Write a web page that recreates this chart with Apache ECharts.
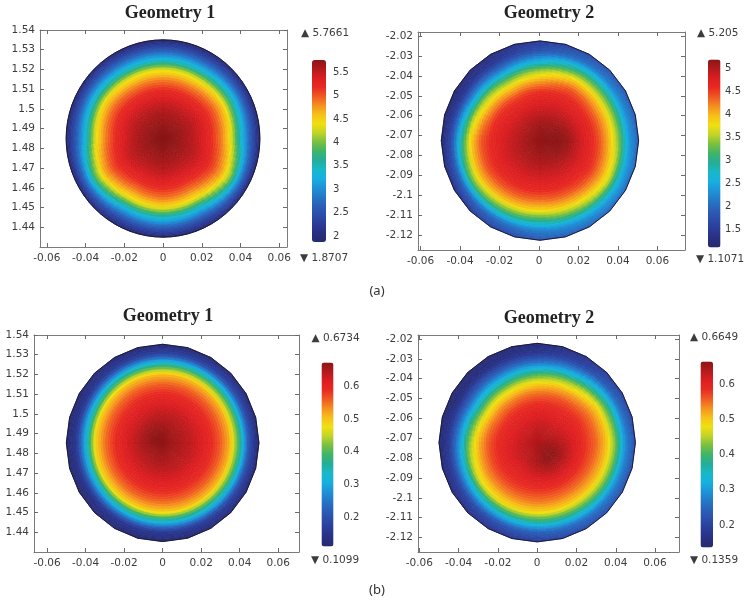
<!DOCTYPE html>
<html>
<head>
<meta charset="utf-8">
<script src="https://cdn.jsdelivr.net/npm/echarts@6/dist/echarts.min.js"></script>
<style>
  html, body { margin: 0; padding: 0; background: #ffffff; }
  #chart { width: 744px; height: 604px; }
</style>
</head>
<body>
<div id="chart"></div>
<script>
// Cross-section fields sampled along rays from each section centre.
// Rows follow rayAngles (degrees, counter-clockwise from +x); columns follow sampleRadii.
const sampleRadii = [0, 0.005, 0.01, 0.015, 0.02, 0.025, 0.03, 0.035, 0.04, 0.045, 0.05];
const rayAngles = [0, 30, 60, 90, 120, 150, 180, 210, 240, 270, 300, 330];

// (a) Geometry 1
const geom1aRays = [
  [5.766, 5.741, 5.667, 5.564, 5.408, 5.199, 4.874, 4.40, 3.44, 2.65, 1.95],
  [5.766, 5.745, 5.673, 5.578, 5.435, 5.240, 4.960, 4.55, 3.65, 2.74, 1.95],
  [5.766, 5.740, 5.664, 5.560, 5.400, 5.180, 4.840, 4.35, 3.36, 2.59, 1.95],
  [5.766, 5.740, 5.664, 5.560, 5.400, 5.180, 4.840, 4.35, 3.36, 2.59, 1.93],
  [5.766, 5.740, 5.664, 5.560, 5.400, 5.180, 4.840, 4.35, 3.36, 2.59, 1.93],
  [5.766, 5.743, 5.670, 5.570, 5.420, 5.220, 4.930, 4.50, 3.56, 2.68, 1.95],
  [5.766, 5.740, 5.664, 5.560, 5.400, 5.180, 4.840, 4.35, 3.36, 2.59, 1.95],
  [5.766, 5.745, 5.680, 5.590, 5.470, 5.280, 5.040, 4.68, 3.95, 2.85, 1.95],
  [5.766, 5.740, 5.664, 5.560, 5.400, 5.180, 4.840, 4.35, 3.36, 2.59, 1.95],
  [5.766, 5.745, 5.672, 5.575, 5.425, 5.215, 4.915, 4.45, 3.50, 2.68, 1.98],
  [5.766, 5.742, 5.664, 5.560, 5.400, 5.180, 4.840, 4.35, 3.36, 2.59, 1.95],
  [5.766, 5.746, 5.680, 5.590, 5.470, 5.300, 5.060, 4.72, 4.09, 2.90, 1.97]
];

// (a) Geometry 2
const geom2aRays = [
  [5.15, 5.19, 5.20, 5.10, 4.89, 4.70, 4.44, 4.03, 3.39, 2.42, 1.95],
  [5.15, 5.18, 5.16, 5.03, 4.84, 4.67, 4.37, 3.95, 3.21, 2.28, 1.85],
  [5.15, 5.16, 5.10, 4.95, 4.81, 4.64, 4.41, 3.91, 3.08, 2.13, 1.70],
  [5.15, 5.14, 5.05, 4.90, 4.75, 4.56, 4.11, 3.51, 2.59, 1.81, 1.50],
  [5.15, 5.12, 5.02, 4.88, 4.71, 4.45, 3.96, 3.22, 2.26, 1.52, 1.25],
  [5.15, 5.11, 5.00, 4.87, 4.73, 4.54, 4.10, 3.47, 2.39, 1.48, 1.12],
  [5.15, 5.10, 5.00, 4.90, 4.78, 4.62, 4.40, 3.91, 2.91, 1.73, 1.20],
  [5.15, 5.11, 5.03, 4.93, 4.81, 4.66, 4.43, 4.03, 3.27, 1.97, 1.35],
  [5.15, 5.12, 5.04, 4.93, 4.80, 4.64, 4.37, 3.95, 3.13, 2.09, 1.60],
  [5.15, 5.13, 5.06, 4.94, 4.80, 4.62, 4.31, 3.86, 3.06, 2.22, 1.85],
  [5.15, 5.15, 5.09, 4.97, 4.83, 4.66, 4.40, 3.99, 3.32, 2.39, 1.95],
  [5.15, 5.18, 5.16, 5.04, 4.88, 4.72, 4.52, 4.15, 3.66, 2.57, 2.00]
];

// (b) Geometry 1
const geom1bRays = [
  [0.668, 0.659, 0.648, 0.636, 0.618, 0.594, 0.562, 0.513, 0.385, 0.203, 0.120],
  [0.668, 0.659, 0.648, 0.636, 0.617, 0.593, 0.561, 0.511, 0.378, 0.198, 0.118],
  [0.668, 0.662, 0.650, 0.636, 0.617, 0.592, 0.559, 0.507, 0.368, 0.190, 0.117],
  [0.668, 0.666, 0.652, 0.636, 0.616, 0.592, 0.558, 0.505, 0.360, 0.185, 0.116],
  [0.668, 0.670, 0.655, 0.635, 0.615, 0.590, 0.556, 0.501, 0.346, 0.175, 0.115],
  [0.668, 0.673, 0.656, 0.634, 0.614, 0.588, 0.552, 0.493, 0.325, 0.160, 0.114],
  [0.668, 0.668, 0.654, 0.634, 0.613, 0.587, 0.549, 0.490, 0.318, 0.157, 0.113],
  [0.668, 0.663, 0.650, 0.634, 0.613, 0.587, 0.549, 0.490, 0.318, 0.157, 0.113],
  [0.668, 0.662, 0.650, 0.634, 0.614, 0.588, 0.552, 0.493, 0.325, 0.160, 0.114],
  [0.668, 0.662, 0.650, 0.634, 0.614, 0.589, 0.553, 0.496, 0.332, 0.165, 0.115],
  [0.668, 0.659, 0.647, 0.635, 0.615, 0.591, 0.556, 0.503, 0.350, 0.178, 0.117],
  [0.668, 0.659, 0.647, 0.636, 0.617, 0.593, 0.560, 0.508, 0.371, 0.193, 0.118]
];

// (b) Geometry 2
const geom2bRays = [
  [0.640, 0.646, 0.643, 0.628, 0.606, 0.580, 0.554, 0.510, 0.426, 0.287, 0.220],
  [0.640, 0.637, 0.628, 0.614, 0.597, 0.576, 0.544, 0.496, 0.387, 0.258, 0.200],
  [0.640, 0.635, 0.625, 0.609, 0.589, 0.563, 0.515, 0.434, 0.310, 0.209, 0.170],
  [0.640, 0.634, 0.623, 0.606, 0.583, 0.549, 0.492, 0.393, 0.273, 0.181, 0.150],
  [0.640, 0.630, 0.618, 0.600, 0.578, 0.537, 0.470, 0.363, 0.254, 0.167, 0.140],
  [0.640, 0.630, 0.618, 0.600, 0.578, 0.537, 0.470, 0.362, 0.252, 0.164, 0.137],
  [0.640, 0.632, 0.620, 0.605, 0.588, 0.561, 0.512, 0.426, 0.293, 0.186, 0.145],
  [0.640, 0.635, 0.626, 0.612, 0.593, 0.569, 0.530, 0.467, 0.328, 0.206, 0.155],
  [0.640, 0.638, 0.630, 0.613, 0.595, 0.573, 0.537, 0.485, 0.355, 0.226, 0.170],
  [0.640, 0.645, 0.644, 0.627, 0.602, 0.575, 0.543, 0.493, 0.377, 0.248, 0.190],
  [0.640, 0.654, 0.662, 0.640, 0.612, 0.580, 0.545, 0.498, 0.394, 0.268, 0.210],
  [0.640, 0.654, 0.662, 0.641, 0.613, 0.582, 0.550, 0.506, 0.415, 0.282, 0.220]
];

// colour range end values shown beside each colour bar
const rangeA1 = [1.8707, 5.7661];
const rangeA2 = [1.1071, 5.205];
const rangeB1 = [0.1099, 0.6734];
const rangeB2 = [0.1359, 0.6649];

// tick labels
const xTickValues = [-0.06, -0.04, -0.02, 0, 0.02, 0.04, 0.06];
const yTicksGeom1 = [1.44, 1.45, 1.46, 1.47, 1.48, 1.49, 1.5, 1.51, 1.52, 1.53, 1.54];
const yTicksGeom2 = [-2.12, -2.11, -2.1, -2.09, -2.08, -2.07, -2.06, -2.05, -2.04, -2.03, -2.02];
const barTicksA1 = [2, 2.5, 3, 3.5, 4, 4.5, 5, 5.5];
const barTicksA2 = [1.5, 2, 2.5, 3, 3.5, 4, 4.5, 5];
const barTicksB = [0.2, 0.3, 0.4, 0.5, 0.6];

// rainbow colour table, low to high
const rainbow = ['#262a6e', '#283082', '#2b3c98', '#2b4daa', '#2a5fb8', '#2478c8', '#1e93d8',
  '#16b0e0', '#18b8c8', '#24ae98', '#40b468', '#7ac040', '#c0d428', '#f0e010', '#f6c018',
  '#f59020', '#f05a22', '#e82a22', '#dc1e22', '#b41a1c', '#8a1616'];

const panels = [
  { title: 'Geometry 1', rays: geom1aRays, range: rangeA1, barTicks: barTicksA1, yTicks: yTicksGeom1,
    cx: 0, cy: 1.485, rimSides: 72,
    grid: { left: 40, top: 30, width: 247, height: 217 }, xRange: [-0.0635, 0.064], yRange: [1.43, 1.54],
    bar: { left: 312, top: 60, width: 14, height: 182, margin: 7 },
    titleAt: [170, 13], maxAt: [301, 33], minAt: [300, 258] },
  { title: 'Geometry 2', rays: geom2aRays, range: rangeA2, barTicks: barTicksA2, yTicks: yTicksGeom2,
    cx: 0.0005, cy: -2.0725, rimSides: 24,
    grid: { left: 418, top: 32, width: 267, height: 218 }, xRange: [-0.0613, 0.074], yRange: [-2.1274, -2.018],
    bar: { left: 708, top: 59.5, width: 12.5, height: 188, margin: 6 },
    titleAt: [549, 13], maxAt: [697, 33], minAt: [696, 259] },
  { title: 'Geometry 1', rays: geom1bRays, range: rangeB1, barTicks: barTicksB, yTicks: yTicksGeom1,
    cx: 0, cy: 1.4853, rimSides: 24,
    grid: { left: 34, top: 335, width: 265, height: 217 }, xRange: [-0.0668, 0.0708], yRange: [1.43, 1.54],
    bar: { left: 321.5, top: 362.5, width: 12, height: 184, margin: 10 },
    titleAt: [168, 316.5], maxAt: [311.5, 338.5], minAt: [311, 560.5] },
  { title: 'Geometry 2', rays: geom2bRays, range: rangeB2, barTicks: barTicksB, yTicks: yTicksGeom2,
    cx: 0, cy: -2.0722, rimSides: 24,
    grid: { left: 418, top: 335, width: 261, height: 217 }, xRange: [-0.0607, 0.0722], yRange: [-2.1273, -2.018],
    bar: { left: 700.5, top: 361.5, width: 12.5, height: 186, margin: 6 },
    titleAt: [549, 318], maxAt: [690, 337], minAt: [690, 560.5] }
];

const DEG = Math.PI / 180;
const labelFont = 'DejaVu Sans';
const labelColor = '#3c3c3c';

// Smoothly shaded polar patches: each sample owns the patch around it,
// shaded by interpolating the neighbouring samples and mapping through the colour table.
function fieldRenderer(p) {
  const nA = rayAngles.length;
  const nR = sampleRadii.length;
  const step = 360 / nA;
  const dr = sampleRadii[1] - sampleRadii[0];
  const rMax = sampleRadii[nR - 1];
  const halfSide = Math.PI / p.rimSides;
  const vmin = p.range[0], vmax = p.range[1];

  function rimRadius(thDeg) {
    const seg = 2 * halfSide;
    const th = thDeg * DEG;
    const local = ((th % seg) + seg) % seg - halfSide;
    return rMax * Math.cos(halfSide) / Math.cos(local);
  }
  function valueAt(thDeg, r) {
    const u = ((((thDeg - rayAngles[0]) % 360) + 360) % 360) / step;
    const a0 = Math.floor(u) % nA, a1 = (a0 + 1) % nA, fa = u - Math.floor(u);
    const q = Math.min(r / dr, nR - 1 - 1e-9);
    const j0 = Math.floor(q), j1 = Math.min(j0 + 1, nR - 1), fr = q - j0;
    const A = p.rays[a0], B = p.rays[a1];
    const va = A[j0] + (A[j1] - A[j0]) * fr;
    const vb = B[j0] + (B[j1] - B[j0]) * fr;
    return va + (vb - va) * fa;
  }
  function colorOf(v) {
    const t = Math.max(0, Math.min(1, (v - vmin) / (vmax - vmin)));
    return echarts.color.lerp(t, rainbow);
  }

  return function (params, api) {
    const idx = params.dataIndex;
    const a = Math.floor(idx / nR), j = idx % nR;
    const pt = (thDeg, r) => api.coord([p.cx + r * Math.cos(thDeg * DEG), p.cy + r * Math.sin(thDeg * DEG)]);
    const th0 = rayAngles[a] - step / 2;
    const rIn = Math.max(0, sampleRadii[j] - dr / 2);
    const last = j === nR - 1;
    const rOut = Math.min(sampleRadii[j] + dr / 2, rMax);
    const subA = 6, subR = j === 0 ? 2 : 4;
    const children = [];
    for (let s = 0; s < subA; s++) {
      const ta = th0 + step * s / subA, tb = th0 + step * (s + 1) / subA;
      const outA = last ? rimRadius(ta) : rOut;
      const outB = last ? rimRadius(tb) : rOut;
      for (let k = 0; k < subR; k++) {
        const f0 = k / subR, f1 = (k + 1) / subR;
        const ra0 = rIn + (outA - rIn) * f0, ra1 = rIn + (outA - rIn) * f1;
        const rb0 = rIn + (outB - rIn) * f0, rb1 = rIn + (outB - rIn) * f1;
        const c = colorOf(valueAt((ta + tb) / 2, (ra0 + ra1 + rb0 + rb1) / 4));
        children.push({
          type: 'polygon',
          shape: { points: [pt(ta, ra0), pt(tb, rb0), pt(tb, rb1), pt(ta, ra1)] },
          style: { fill: c, stroke: c, lineWidth: 0.7 },
          silent: true
        });
      }
    }
    return { type: 'group', children: children };
  };
}

// Outline of the meshed cross-section
function rimRenderer(p) {
  const rMax = sampleRadii[sampleRadii.length - 1];
  return function (params, api) {
    const pts = [];
    for (let k = 0; k < p.rimSides; k++) {
      const th = k * 2 * Math.PI / p.rimSides;
      pts.push(api.coord([p.cx + rMax * Math.cos(th), p.cy + rMax * Math.sin(th)]));
    }
    return {
      type: 'polygon',
      shape: { points: pts },
      style: { fill: null, stroke: '#1a1a38', lineWidth: 1 },
      silent: true
    };
  };
}

const grids = [], xAxes = [], yAxes = [], series = [], visualMaps = [], texts = [];
const frameLine = { show: true, onZero: false, lineStyle: { color: '#7a7a7a', width: 1 } };
const innerTicks = (vals) => ({ show: true, inside: true, length: 4, customValues: vals, lineStyle: { color: '#6a6a6a', width: 1 } });
const tickText = (vals, margin) => ({ customValues: vals, margin: margin, fontSize: 10.5, color: labelColor, fontFamily: labelFont });

panels.forEach((p, i) => {
  grids.push({ left: p.grid.left, top: p.grid.top, width: p.grid.width, height: p.grid.height });
  xAxes.push({ type: 'value', gridIndex: i, position: 'bottom', min: p.xRange[0], max: p.xRange[1],
    axisLine: frameLine, axisTick: innerTicks(xTickValues), axisLabel: tickText(xTickValues, 6), splitLine: { show: false } });
  xAxes.push({ type: 'value', gridIndex: i, position: 'top', min: p.xRange[0], max: p.xRange[1],
    axisLine: frameLine, axisTick: innerTicks(xTickValues), axisLabel: { show: false }, splitLine: { show: false } });
  yAxes.push({ type: 'value', gridIndex: i, position: 'left', min: p.yRange[0], max: p.yRange[1],
    axisLine: frameLine, axisTick: innerTicks(p.yTicks), axisLabel: tickText(p.yTicks, 5), splitLine: { show: false } });
  yAxes.push({ type: 'value', gridIndex: i, position: 'right', min: p.yRange[0], max: p.yRange[1],
    axisLine: frameLine, axisTick: innerTicks(p.yTicks), axisLabel: { show: false }, splitLine: { show: false } });

  const samples = [];
  p.rays.forEach((row, a) => {
    row.forEach((v, j) => {
      const th = rayAngles[a] * DEG, r = sampleRadii[j];
      samples.push([p.cx + r * Math.cos(th), p.cy + r * Math.sin(th), v]);
    });
  });
  series.push({ type: 'custom', name: p.title, xAxisIndex: 2 * i, yAxisIndex: 2 * i, z: 2,
    data: samples, renderItem: fieldRenderer(p), silent: true });
  series.push({ type: 'custom', name: p.title + ' boundary', xAxisIndex: 2 * i, yAxisIndex: 2 * i, z: 3,
    data: [[p.cx, p.cy]], renderItem: rimRenderer(p), silent: true });

  visualMaps.push({ type: 'continuous', seriesIndex: 2 * i, dimension: 2,
    min: p.range[0], max: p.range[1], inRange: { color: rainbow },
    orient: 'vertical', left: p.bar.left, top: p.bar.top, itemWidth: p.bar.width, itemHeight: p.bar.height,
    calculable: false, hoverLink: false, padding: 0, showLabel: false });

  texts.push({ type: 'text', x: p.titleAt[0], y: p.titleAt[1], silent: true,
    style: { text: p.title, font: 'bold 18px "Liberation Serif"', fill: '#222222', align: 'center', verticalAlign: 'middle' } });
  texts.push({ type: 'text', x: p.maxAt[0], y: p.maxAt[1], silent: true,
    style: { text: '\u25B2 ' + p.range[1], font: '10.5px "DejaVu Sans"', fill: labelColor, align: 'left', verticalAlign: 'middle' } });
  texts.push({ type: 'text', x: p.minAt[0], y: p.minAt[1], silent: true,
    style: { text: '\u25BC ' + p.range[0], font: '10.5px "DejaVu Sans"', fill: labelColor, align: 'left', verticalAlign: 'middle' } });
});

// colour bar tick labels
panels.forEach((p, i) => {
  grids.push({ left: p.bar.left, top: p.bar.top, width: p.bar.width, height: p.bar.height });
  xAxes.push({ type: 'value', gridIndex: 4 + i, show: false, min: 0, max: 1 });
  yAxes.push({ type: 'value', gridIndex: 4 + i, position: 'right', min: p.range[0], max: p.range[1],
    axisLine: { show: false }, axisTick: { show: false }, splitLine: { show: false },
    axisLabel: { customValues: p.barTicks, margin: p.bar.margin, fontSize: 10, color: labelColor, fontFamily: labelFont } });
});

texts.push({ type: 'text', x: 377, y: 291, silent: true,
  style: { text: '(a)', font: '13px "Noto Sans"', fill: '#333333', align: 'center', verticalAlign: 'middle' } });
texts.push({ type: 'text', x: 377, y: 590, silent: true,
  style: { text: '(b)', font: '13px "Noto Sans"', fill: '#333333', align: 'center', verticalAlign: 'middle' } });

const chart = echarts.init(document.getElementById('chart'), null, { renderer: 'canvas' });
chart.setOption({
  backgroundColor: '#ffffff',
  animation: false,
  textStyle: { fontFamily: labelFont },
  grid: grids,
  xAxis: xAxes,
  yAxis: yAxes,
  visualMap: visualMaps,
  series: series,
  graphic: { elements: texts }
});
</script>
</body>
</html>
